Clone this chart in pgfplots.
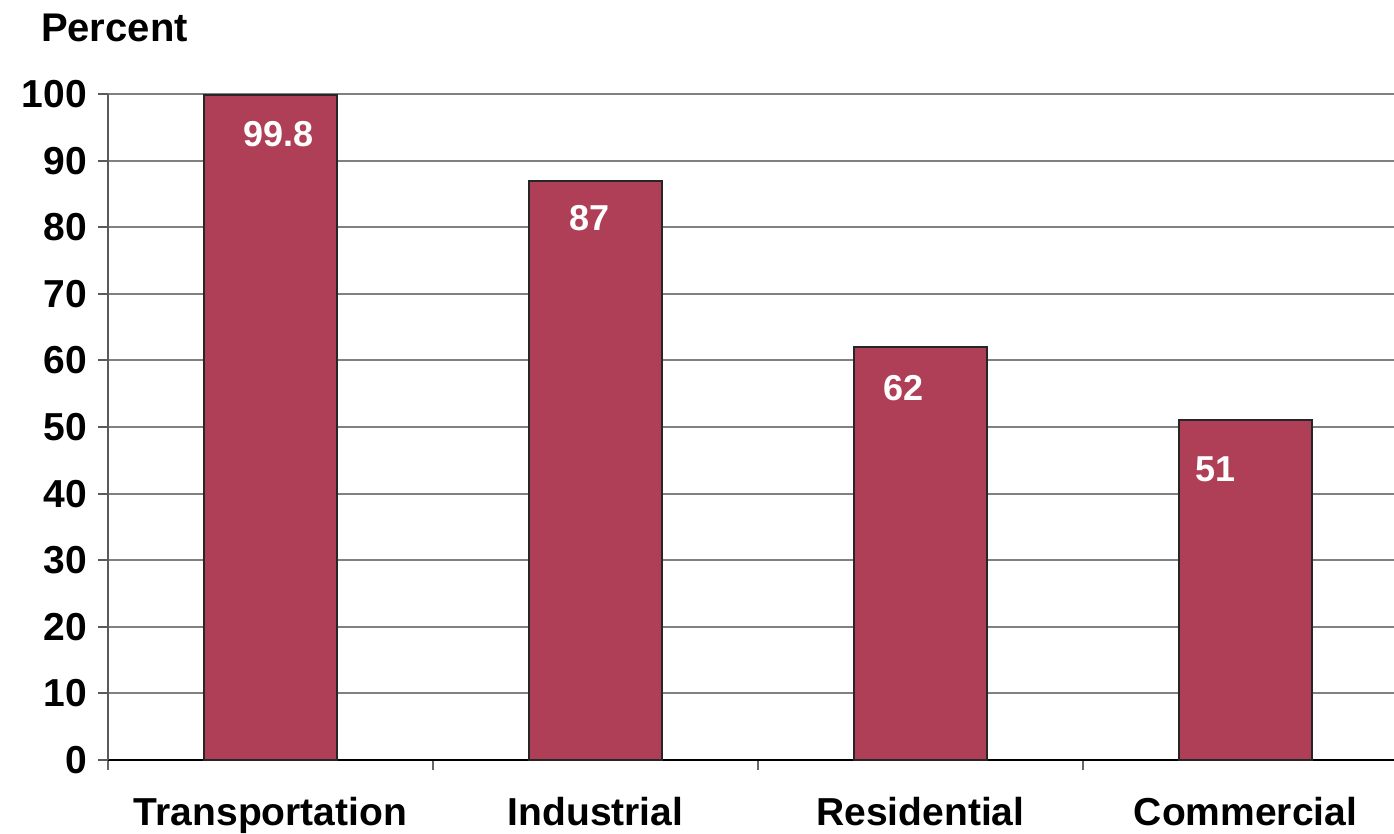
\documentclass[border=0pt]{standalone}
\usepackage{fontspec}
\setmainfont{Liberation Sans}
\usepackage{pgfplots}
\pgfplotsset{compat=1.18}
\definecolor{barred}{RGB}{175,63,86}
\definecolor{gridgray}{RGB}{128,128,128}
\begin{document}
\begin{tikzpicture}
\path[use as bounding box] (-54pt,-37pt) rectangle (643pt,380pt);
\begin{axis}[
  at={(0,0)}, anchor=south west,
  scale only axis, width=643pt, height=333pt,
  xmin=-0.5, xmax=3.457, ymin=0, ymax=100,
  axis lines=left, axis line style={-, line width=1pt},
  x axis line style={black}, y axis line style={gridgray!70!black},
  xtick={-0.5,0.5,1.5,2.5},
  xticklabels={},
  x tick style={gridgray!80!black, line width=0.8pt},
  extra x ticks={0,1,2,3},
  extra x tick labels={Transportation,Industrial,Residential,Commercial},
  extra x tick style={major tick length=0pt, grid=none},
  ytick={0,10,...,100},
  ymajorgrids, grid style={gridgray, line width=1pt},
  y tick style={gridgray!70!black, line width=1pt},
  tick align=outside, major tick length=5pt,
  /pgf/number format/assume math mode=true,
  yticklabel style={font=\fontsize{19.5}{19.5}\selectfont\bfseries, xshift=-2pt},
  xticklabel style={font=\fontsize{19.5}{19.5}\selectfont\bfseries, yshift=-15pt},
  clip=false,
]
\addplot[ybar, bar width=0.41, fill=barred, draw=black!85, line width=1pt,
  visualization depends on={\thisrow{dx} \as \dx},
  visualization depends on={\thisrow{dy} \as \dy},
  nodes near coords,
  point meta=explicit symbolic,
  nodes near coords style={anchor=center, text=white, font=\fontsize{18}{18}\selectfont\bfseries, xshift=\dx pt, yshift=-\dy pt},
] table[x=x, y=y, meta=lab] {
x y lab dx dy
0 99.8 99.8 4 19.5
1 87 87 -3 19
2 62 62 -8.5 20.5
3 51 51 -15 24.5
};
\node[anchor=west, font=\fontsize{20}{20}\selectfont\bfseries] at ([xshift=-37pt,yshift=33pt]rel axis cs:0,1) {Percent};
\end{axis}
\end{tikzpicture}
\end{document}
